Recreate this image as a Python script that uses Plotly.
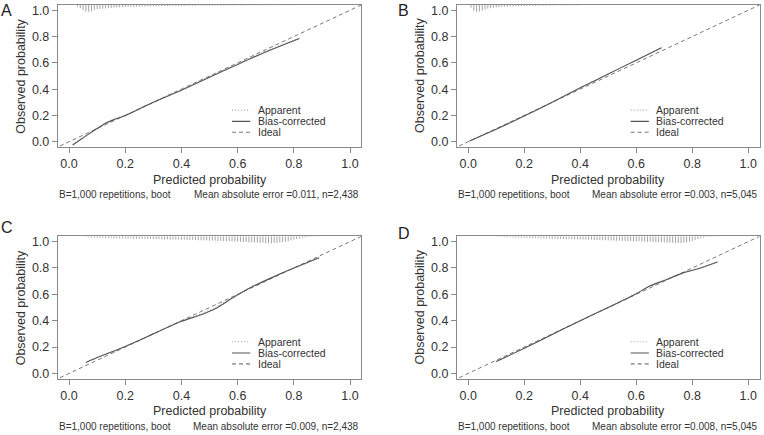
import numpy as np
import plotly.graph_objects as go

W, H = 764, 435
FONT = "Liberation Sans, Arial, Helvetica, sans-serif"

# ---------------- data ----------------
panel_labels = ["A", "B", "C", "D"]
subtitle_left = ["B=1,000 repetitions, boot"] * 4
subtitle_right = [
    "Mean absolute error =0.011, n=2,438",
    "Mean absolute error =0.003, n=5,045",
    "Mean absolute error =0.009, n=2,438",
    "Mean absolute error =0.008, n=5,045",
]
tick_vals = [0.0, 0.2, 0.4, 0.6, 0.8, 1.0]
tick_text = ["0.0", "0.2", "0.4", "0.6", "0.8", "1.0"]
legend_names = ["Apparent", "Bias-corrected", "Ideal"]

# Bias-corrected curves
bc_x_A = [0.013, 0.04, 0.07, 0.10, 0.13, 0.16, 0.20, 0.30, 0.40, 0.50, 0.60, 0.70, 0.82]
bc_y_A = [-0.025, 0.015, 0.058, 0.10, 0.14, 0.168, 0.198, 0.30, 0.392, 0.49, 0.588, 0.683, 0.785]
bc_x_B = [0.005, 0.10, 0.20, 0.30, 0.40, 0.50, 0.60, 0.69]
bc_y_B = [0.005, 0.095, 0.195, 0.30, 0.41, 0.515, 0.62, 0.715]
bc_x_C = [0.06, 0.10, 0.20, 0.30, 0.40, 0.47, 0.52, 0.58, 0.65, 0.72, 0.80, 0.89]
bc_y_C = [0.083, 0.12, 0.205, 0.30, 0.395, 0.445, 0.49, 0.57, 0.655, 0.725, 0.80, 0.878]
bc_x_D = [0.10, 0.20, 0.30, 0.40, 0.50, 0.60, 0.65, 0.70, 0.77, 0.83, 0.89]
bc_y_D = [0.09, 0.19, 0.295, 0.40, 0.50, 0.605, 0.665, 0.705, 0.765, 0.80, 0.845]

# Apparent curves
ap_x_A = bc_x_A
ap_y_A = [-0.02, 0.02, 0.063, 0.105, 0.145, 0.173, 0.203, 0.305, 0.40, 0.495, 0.595, 0.69, 0.79]
ap_x_B = bc_x_B
ap_y_B = [0.005, 0.097, 0.197, 0.302, 0.412, 0.517, 0.622, 0.718]
ap_x_C = bc_x_C
ap_y_C = [0.08, 0.118, 0.205, 0.302, 0.40, 0.452, 0.50, 0.575, 0.66, 0.728, 0.80, 0.875]
ap_x_D = bc_x_D
ap_y_D = [0.09, 0.19, 0.297, 0.40, 0.50, 0.607, 0.668, 0.71, 0.768, 0.802, 0.848]

# Ideal line
ideal_x = [-0.1, 1.1]
ideal_y = [-0.1, 1.1]

# Rug (histogram spikes of predicted probability), bins of width 0.01
rug_start_A = 0.03
rug_h_A = [0.012, 0.025, 0.04, 0.05, 0.052, 0.048, 0.04,
           0.032, 0.03, 0.028, 0.026, 0.024, 0.022, 0.02, 0.019, 0.018, 0.017,
           0.016, 0.015, 0.014, 0.014, 0.013, 0.012, 0.012, 0.011, 0.011, 0.01,
           0.01, 0.009, 0.009, 0.009, 0.008, 0.008, 0.008, 0.007, 0.007, 0.007,
           0.007, 0.006, 0.006, 0.006, 0.006, 0.006, 0.005, 0.005, 0.005, 0.005,
           0.005, 0.005, 0.004, 0.004, 0.004, 0.004, 0.004, 0.004, 0.004, 0.003,
           0.003, 0.003, 0.003, 0.003, 0.003, 0.002, 0.002, 0.002, 0.002, 0.002,
           0.002, 0.002, 0.002, 0.002, 0.002, 0.0015, 0.0015, 0.0015, 0.0015, 0.0015,
           0.0015]
rug_start_B = 0.01
rug_h_B = [0.02, 0.045, 0.052, 0.05, 0.042, 0.034, 0.028, 0.024, 0.02, 0.018,
           0.016, 0.014, 0.013, 0.012, 0.011, 0.01, 0.009, 0.009, 0.008, 0.008,
           0.007, 0.007, 0.006, 0.006, 0.006, 0.005, 0.005, 0.005, 0.004, 0.004,
           0.004, 0.003, 0.003, 0.003, 0.003, 0.002, 0.002, 0.002, 0.002, 0.002]
rug_start_C = 0.06
rug_h_C = [0.005, 0.008, 0.01, 0.012,
           0.012, 0.013, 0.012, 0.014, 0.013, 0.014, 0.015, 0.014, 0.015, 0.016,
           0.016, 0.017, 0.016, 0.018, 0.017, 0.018, 0.019, 0.018, 0.02, 0.019,
           0.02, 0.021, 0.02, 0.022, 0.023, 0.022, 0.024, 0.023, 0.025, 0.024,
           0.026, 0.025, 0.027, 0.028, 0.027, 0.029, 0.03, 0.029, 0.031, 0.03,
           0.032, 0.031, 0.033, 0.035, 0.034, 0.036, 0.037, 0.036, 0.038, 0.04,
           0.039, 0.041, 0.043, 0.042, 0.044, 0.046, 0.045, 0.047, 0.05, 0.048,
           0.052, 0.05, 0.053, 0.049, 0.05, 0.046, 0.044, 0.04, 0.036, 0.03,
           0.024, 0.02, 0.016, 0.012, 0.009, 0.006, 0.004, 0.003, 0.002, 0.002]
rug_start_D = 0.10
rug_h_D = [0.003, 0.004, 0.005, 0.006, 0.007, 0.008, 0.009, 0.01, 0.01, 0.011,
           0.012, 0.012, 0.013, 0.014, 0.013, 0.015, 0.015, 0.016, 0.016, 0.017,
           0.018, 0.017, 0.019, 0.019, 0.02, 0.021, 0.02, 0.022, 0.022, 0.023,
           0.024, 0.023, 0.025, 0.026, 0.025, 0.027, 0.028, 0.027, 0.029, 0.03,
           0.03, 0.031, 0.032, 0.033, 0.032, 0.034, 0.035, 0.036, 0.035, 0.037,
           0.038, 0.037, 0.039, 0.04, 0.041, 0.04, 0.042, 0.043, 0.045, 0.044,
           0.046, 0.047, 0.049, 0.048, 0.05, 0.052, 0.05, 0.048, 0.045, 0.04,
           0.034, 0.027, 0.02, 0.014, 0.009, 0.006, 0.004, 0.003, 0.002, 0.002]
rug_bin = 0.01

# legend rows (data coords inside each panel)
legend_y = [0.24, 0.155, 0.072]

# ---------------- layout geometry (pixels) ----------------
boxes = {  # left, right, top, bottom
    "A": (57.8, 361.3, 4.0, 147.0),
    "B": (457.0, 759.5, 4.0, 147.0),
    "C": (57.8, 361.3, 237.0, 380.3),
    "D": (457.0, 759.5, 237.0, 380.3),
}
letter_pos = {"A": (7, 10), "B": (403, 10), "C": (7, 228), "D": (404, 234)}

LO, HI = -0.04, 1.04
C_SOLID = "#555555"
C_DASH = "#7a7a7a"
C_DOT = "#a8a8a8"
C_FRAME = "#8a8a8a"
C_TEXT = "#333333"

series = {
    "A": (bc_x_A, bc_y_A, ap_x_A, ap_y_A, rug_start_A, rug_h_A),
    "B": (bc_x_B, bc_y_B, ap_x_B, ap_y_B, rug_start_B, rug_h_B),
    "C": (bc_x_C, bc_y_C, ap_x_C, ap_y_C, rug_start_C, rug_h_C),
    "D": (bc_x_D, bc_y_D, ap_x_D, ap_y_D, rug_start_D, rug_h_D),
}


def px(x):
    return x / W


def py(y):
    return 1 - y / H


fig = go.Figure()
annotations = []

for i, lab in enumerate(panel_labels):
    n = "" if i == 0 else str(i + 1)
    xa, ya = "x" + n, "y" + n
    l, r, t, b = boxes[lab]
    bx, by, ax_, ay_, rstart, rh = series[lab]

    axis_common = dict(
        range=[LO, HI], tickvals=tick_vals, ticktext=tick_text,
        ticks="outside", ticklen=5, tickwidth=1, tickcolor=C_FRAME,
        showline=True, mirror=True, linecolor=C_FRAME, linewidth=1,
        showgrid=False, zeroline=False,
        tickfont=dict(family=FONT, size=12.5, color=C_TEXT),
        fixedrange=True,
    )
    fig.update_layout(**{
        "xaxis" + n: dict(domain=[px(l), px(r)], anchor=ya, **axis_common),
        "yaxis" + n: dict(domain=[py(b), py(t)], anchor=xa, **axis_common),
    })

    # rug spikes
    centers = [rstart + k * rug_bin for k in range(len(rh))]
    rx, ry = [], []
    for c, h in zip(centers, rh):
        rx += [c, c, None]
        ry += [HI, HI - h, None]
    fig.add_trace(go.Scatter(x=rx, y=ry, mode="lines", xaxis=xa, yaxis=ya,
                             line=dict(color="#8c8c8c", width=0.8),
                             showlegend=False, hoverinfo="skip"))
    # ideal
    fig.add_trace(go.Scatter(x=ideal_x, y=ideal_y, mode="lines", xaxis=xa, yaxis=ya,
                             line=dict(color=C_DASH, width=1, dash="4px,3px"),
                             showlegend=False, hoverinfo="skip"))
    # apparent
    fig.add_trace(go.Scatter(x=ax_, y=ay_, mode="lines", xaxis=xa, yaxis=ya,
                             line=dict(color=C_DOT, width=1, dash="1px,2px"),
                             showlegend=False, hoverinfo="skip"))
    # bias-corrected
    fig.add_trace(go.Scatter(x=bx, y=by, mode="lines", xaxis=xa, yaxis=ya,
                             line=dict(color=C_SOLID, width=1.1, shape="spline", smoothing=0.5),
                             showlegend=False, hoverinfo="skip"))

    # in-plot legend
    styles = [(C_DOT, "1px,2px"), (C_SOLID, "solid"), (C_DASH, "4px,3px")]
    for (col, dsh), name, yy in zip(styles, legend_names, legend_y):
        fig.add_trace(go.Scatter(x=[0.58, 0.645], y=[yy, yy], mode="lines",
                                 xaxis=xa, yaxis=ya,
                                 line=dict(color=col, width=1.1, dash=dsh),
                                 showlegend=False, hoverinfo="skip"))
        annotations.append(dict(x=0.665, y=yy, xref=xa, yref=ya, text=name,
                                showarrow=False, xanchor="left", yanchor="middle",
                                font=dict(family=FONT, size=10.5, color=C_TEXT)))

    cx = (l + r) / 2
    cy = (t + b) / 2
    # x title
    annotations.append(dict(x=px(cx), y=py(b + 33), xref="paper", yref="paper",
                            text="Predicted probability", showarrow=False,
                            xanchor="center", yanchor="middle",
                            font=dict(family=FONT, size=12.5, color=C_TEXT)))
    # y title
    annotations.append(dict(x=px(l - 37), y=py(cy), xref="paper", yref="paper",
                            text="Observed probability", showarrow=False, textangle=-90,
                            xanchor="center", yanchor="middle",
                            font=dict(family=FONT, size=12.5, color=C_TEXT)))
    # subtitles
    annotations.append(dict(x=px(l - 1), y=py(b + 48), xref="paper", yref="paper",
                            text=subtitle_left[i], showarrow=False,
                            xanchor="left", yanchor="middle",
                            font=dict(family=FONT, size=10, color=C_TEXT)))
    annotations.append(dict(x=px(r), y=py(b + 48), xref="paper", yref="paper",
                            text=subtitle_right[i], showarrow=False,
                            xanchor="right", yanchor="middle",
                            font=dict(family=FONT, size=10, color=C_TEXT)))
    # panel letter
    lx, ly = letter_pos[lab]
    annotations.append(dict(x=px(lx), y=py(ly), xref="paper", yref="paper",
                            text=lab, showarrow=False, xanchor="center", yanchor="middle",
                            font=dict(family=FONT, size=16, color="#222222")))

fig.update_layout(
    width=W, height=H,
    margin=dict(l=0, r=0, t=0, b=0),
    paper_bgcolor="white", plot_bgcolor="white",
    showlegend=False,
    annotations=annotations,
)

fig.write_html(
    "out.html",
    config={"displayModeBar": False, "staticPlot": True},
    post_script="document.body.style.margin='0';document.body.style.padding='0';"
                "document.body.style.overflow='hidden';",
)
